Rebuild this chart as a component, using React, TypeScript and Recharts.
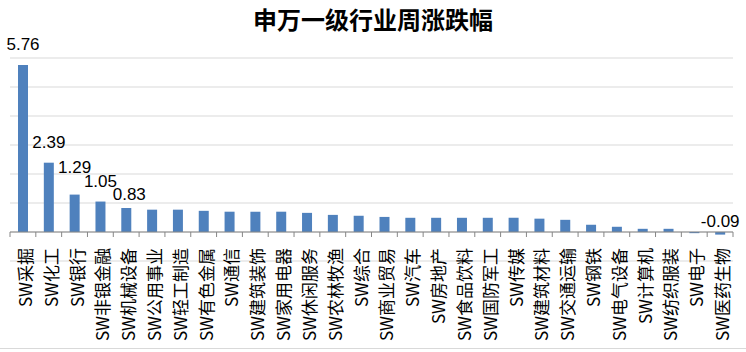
import React from 'react';
import { BarChart, Bar, XAxis, YAxis, CartesianGrid, ReferenceLine, LabelList } from 'recharts';

const categories = [
  'SW采掘', 'SW化工', 'SW银行', 'SW非银金融', 'SW机械设备', 'SW公用事业', 'SW轻工制造',
  'SW有色金属', 'SW通信', 'SW建筑装饰', 'SW家用电器', 'SW休闲服务', 'SW农林牧渔', 'SW综合',
  'SW商业贸易', 'SW汽车', 'SW房地产', 'SW食品饮料', 'SW国防军工', 'SW传媒', 'SW建筑材料',
  'SW交通运输', 'SW钢铁', 'SW电气设备', 'SW计算机', 'SW纺织服装', 'SW电子', 'SW医药生物',
];
const values = [
  5.76, 2.39, 1.29, 1.05, 0.83, 0.77, 0.77, 0.73, 0.7, 0.7, 0.7, 0.66, 0.59, 0.56,
  0.52, 0.49, 0.49, 0.49, 0.49, 0.49, 0.46, 0.42, 0.25, 0.18, 0.11, 0.11, -0.04, -0.09,
];
const labelledIndexes = [0, 1, 2, 3, 4, 27];
const yTicks = [-1, 0, 1, 2, 3, 4, 5, 6];

const data = categories.map((name, i) => ({ name, value: values[i] }));

const W = 746;
const H = 352;
const LEFT = 10;
const RIGHT = 13;
const TOP = 58;
const PLOT_BOTTOM = 261;
const PLOT_W = W - LEFT - RIGHT;
const PLOT_H = PLOT_BOTTOM - TOP;
const BAND = PLOT_W / categories.length;
const ZERO_Y = TOP + (PLOT_H * 6) / 7;

// hand-placed label nudges (like the manually moved labels in the original)
const labelLift: Record<number, number> = { 2: 22, 4: 8 };
const labelShift: Record<number, number> = { 4: 3 };

const CategoryTick = (props: any) => {
  const { x, index, payload } = props;
  const left = x - BAND / 2;
  return (
    <g>
      <line x1={left} y1={ZERO_Y} x2={left} y2={ZERO_Y + 5} stroke="#868686" />
      {index === categories.length - 1 && (
        <line x1={left + BAND} y1={ZERO_Y} x2={left + BAND} y2={ZERO_Y + 5} stroke="#868686" />
      )}
      <text
        transform={`translate(${x + 9},${ZERO_Y + 16}) rotate(-90)`}
        textAnchor="end"
        fontSize={17}
        fontFamily="'Noto Sans CJK SC', sans-serif"
        fill="#000"
      >
        {payload.value}
      </text>
    </g>
  );
};

const ValueLabel = (props: any) => {
  const { x, y, width, height, value, index } = props;
  if (!labelledIndexes.includes(index)) return null;
  const top = Math.min(y, y + height);
  const baseY = value < 0 ? ZERO_Y - 5 : top - (labelLift[index] ?? 15);
  return (
    <text
      x={x + width / 2 + (labelShift[index] ?? 0)}
      y={baseY}
      textAnchor="middle"
      fontSize={17}
      fontFamily="'Liberation Sans', sans-serif"
      fill="#000"
    >
      {value.toFixed(2)}
    </text>
  );
};

export default function App() {
  return (
    <div style={{ position: 'absolute', left: 0, top: 0, width: W, height: H, background: '#fff' }}>
      <div
        style={{
          position: 'absolute',
          left: 0,
          top: 7,
          width: W,
          textAlign: 'center',
          fontSize: 24,
          lineHeight: '24px',
          fontWeight: 'bold',
          fontFamily: "'Noto Sans CJK SC', sans-serif",
        }}
      >
        申万一级行业周涨跌幅
      </div>
      <BarChart
        width={W}
        height={H}
        data={data}
        margin={{ top: TOP, right: RIGHT, left: LEFT, bottom: 0 }}
        barCategoryGap={0}
      >
        <CartesianGrid horizontal vertical={false} stroke="#d9d9d9" />
        <YAxis hide width={0} domain={[-1, 6]} ticks={yTicks} />
        <XAxis
          dataKey="name"
          height={H - PLOT_BOTTOM}
          interval={0}
          axisLine={false}
          tickLine={false}
          tick={<CategoryTick />}
        />
        <ReferenceLine y={0} stroke="#868686" />
        <Bar dataKey="value" fill="#4F81BD" barSize={10} isAnimationActive={false}>
          <LabelList dataKey="value" content={<ValueLabel />} />
        </Bar>
      </BarChart>
      <div style={{ position: 'absolute', left: 0, top: 348, width: W, height: 1, background: '#d9d9d9' }} />
    </div>
  );
}
